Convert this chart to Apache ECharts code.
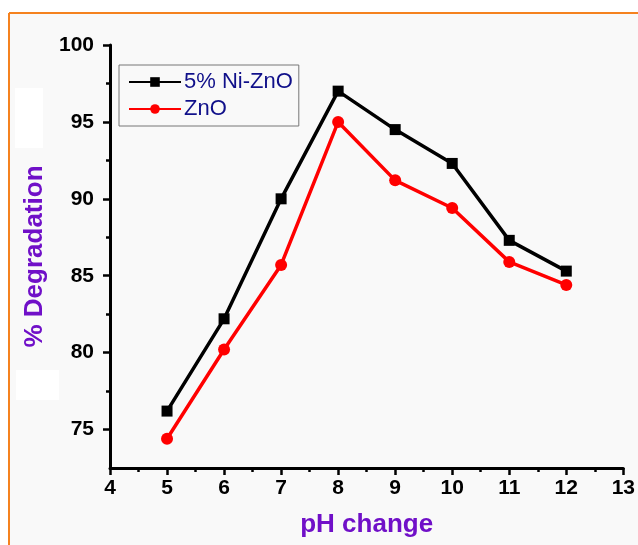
<!DOCTYPE html>
<html>
<head>
<meta charset="utf-8">
<script src="https://cdn.jsdelivr.net/npm/echarts@6/dist/echarts.min.js"></script>
<style>
html,body{margin:0;padding:0;background:#fff;}
#chart{width:638px;height:545px;}
</style>
</head>
<body>
<div id="chart"></div>
<script>
// pH values
var phValues = [5, 6, 7, 8, 9, 10, 11, 12];
// % degradation
var niZnO = [76.2, 82.2, 90.0, 97.0, 94.5, 92.3, 87.3, 85.3];
var znO = [74.4, 80.2, 85.7, 95.0, 91.2, 89.4, 85.9, 84.4];
var yMajor = [75, 80, 85, 90, 95, 100];
var yMinor = [77.5, 82.5, 87.5, 92.5, 97.5];

function pairs(xs, ys) {
    var out = [];
    for (var i = 0; i < xs.length; i++) {
        out.push([xs[i], ys[i]]);
    }
    return out;
}

var labelFont = {color: '#000', fontFamily: 'Liberation Sans', fontWeight: 'bold', fontSize: 21};
var nameFont = {color: '#7010c8', fontFamily: 'Liberation Sans', fontWeight: 'bold', fontSize: 26};

var myChart = echarts.init(document.getElementById('chart'));
var option = {
    animation: false,
    graphic: [
        {type: 'rect', z: -10, shape: {x: 9, y: 13, width: 629, height: 532}, style: {fill: '#f9f9f9'}},
        {type: 'line', z: -9, shape: {x1: 9, y1: 13, x2: 638, y2: 13}, style: {stroke: '#f5821f', lineWidth: 2}},
        {type: 'line', z: -9, shape: {x1: 9, y1: 13, x2: 9, y2: 545}, style: {stroke: '#f5821f', lineWidth: 2}},
        {type: 'rect', z: -8, shape: {x: 15, y: 88, width: 28, height: 60}, style: {fill: '#fff'}},
        {type: 'rect', z: -8, shape: {x: 16, y: 370, width: 43, height: 30}, style: {fill: '#fff'}}
    ],
    grid: {left: 110, right: 14, top: 45, bottom: 77},
    legend: {
        left: 119,
        top: 65,
        orient: 'vertical',
        padding: [6, 6, 6, 9],
        itemGap: 5,
        itemWidth: 52,
        itemHeight: 12,
        borderColor: '#777',
        borderWidth: 1,
        backgroundColor: '#f9f9f9',
        textStyle: {color: '#10108a', fontFamily: 'Liberation Sans', fontSize: 22, padding: [0, 0, 0, -2]},
        data: ['5% Ni-ZnO', 'ZnO']
    },
    xAxis: {
        type: 'value',
        min: 4,
        max: 13,
        interval: 1,
        name: 'pH change',
        nameLocation: 'middle',
        nameGap: 44,
        nameTextStyle: nameFont,
        splitLine: {show: false},
        axisLine: {lineStyle: {color: '#000', width: 3}},
        axisTick: {length: 7, lineStyle: {color: '#000', width: 2.5}},
        minorTick: {show: true, splitNumber: 2, length: 4, lineStyle: {color: '#000', width: 2.5}},
        axisLabel: Object.assign({margin: 10}, labelFont)
    },
    yAxis: [
        {
            type: 'value',
            min: 72.5,
            max: 100,
            name: '% Degradation',
            nameLocation: 'middle',
            nameGap: 61,
            nameTextStyle: nameFont,
            splitLine: {show: false},
            axisLine: {show: true, lineStyle: {color: '#000', width: 3}},
            axisTick: {show: true, length: 7, customValues: yMajor, lineStyle: {color: '#000', width: 2.5}},
            axisLabel: Object.assign({margin: 16, customValues: yMajor}, labelFont)
        },
        {
            type: 'value',
            min: 72.5,
            max: 100,
            position: 'left',
            splitLine: {show: false},
            axisLine: {show: false},
            axisTick: {show: true, length: 4, customValues: yMinor, lineStyle: {color: '#000', width: 2.5}},
            axisLabel: {show: false}
        }
    ],
    series: [
        {
            name: '5% Ni-ZnO',
            type: 'line',
            data: pairs(phValues, niZnO),
            symbol: 'rect',
            symbolSize: 11,
            lineStyle: {color: '#000', width: 3.5},
            itemStyle: {color: '#000'}
        },
        {
            name: 'ZnO',
            type: 'line',
            data: pairs(phValues, znO),
            symbol: 'circle',
            symbolSize: 12,
            lineStyle: {color: '#f00', width: 3.5},
            itemStyle: {color: '#f00'}
        }
    ]
};

myChart.setOption(option);
</script>
</body>
</html>
